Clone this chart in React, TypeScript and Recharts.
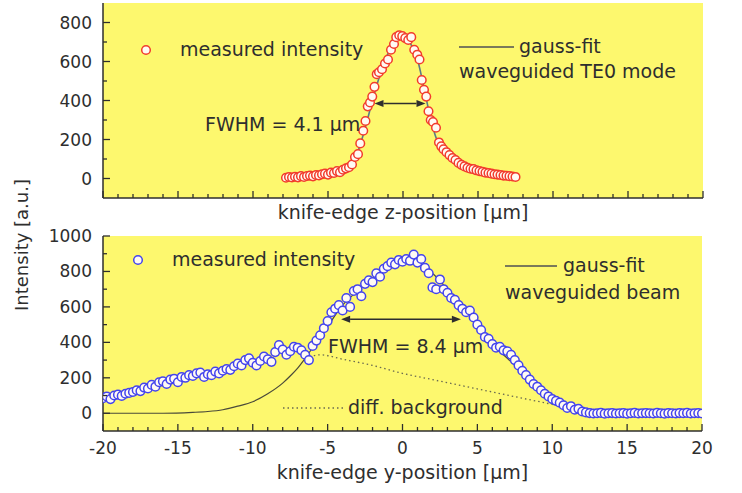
import React from 'react';
import { ComposedChart, Scatter, Line, XAxis, YAxis, CartesianGrid, ReferenceLine } from 'recharts';

const FONT = '"DejaVu Sans", sans-serif';
const INK = '#2e2e2e';
const PANEL = '#fdf86e';

// axis ticks (minor every step, labels only on majors)
const xTicks = [-20, -19, -18, -17, -16, -15, -14, -13, -12, -11, -10, -9, -8, -7, -6, -5, -4, -3, -2, -1, 0, 1, 2, 3, 4, 5, 6, 7, 8, 9, 10, 11, 12, 13, 14, 15, 16, 17, 18, 19, 20];
const topYTicks = [0, 100, 200, 300, 400, 500, 600, 700, 800];
const bottomYTicks = [0, 100, 200, 300, 400, 500, 600, 700, 800, 900, 1000];

// top panel: waveguided TE0 mode, knife-edge z scan
const topMeasured: [number, number][] = [
  [-7.8, 4], [-7.6, 8], [-7.4, 5], [-7.2, 9], [-7.0, 6], [-6.8, 12], [-6.6, 8], [-6.4, 13], [-6.2, 15], [-6.0, 11],
  [-5.8, 18], [-5.6, 16], [-5.4, 22], [-5.2, 25], [-5.0, 20], [-4.8, 30], [-4.6, 28], [-4.4, 38], [-4.2, 32], [-4.0, 45],
  [-3.8, 52], [-3.6, 58], [-3.4, 72], [-3.2, 110], [-3.0, 125], [-2.85, 180], [-2.65, 245], [-2.5, 295], [-2.35, 370], [-2.2, 390],
  [-2.05, 420], [-1.9, 470], [-1.75, 535], [-1.6, 545], [-1.4, 560], [-1.2, 590], [-1.0, 610], [-0.8, 660], [-0.6, 690], [-0.45, 725],
  [-0.25, 735], [-0.05, 730], [0.15, 720], [0.35, 710], [0.55, 725], [0.75, 660], [0.95, 635], [1.1, 610], [1.25, 505], [1.4, 455],
  [1.55, 420], [1.7, 345], [1.85, 300], [2.0, 290], [2.2, 260], [2.4, 185], [2.55, 165], [2.7, 150], [2.9, 135], [3.1, 120],
  [3.3, 105], [3.5, 95], [3.7, 80], [3.9, 70], [4.1, 62], [4.3, 55], [4.5, 50], [4.7, 48], [4.9, 42], [5.1, 38],
  [5.3, 35], [5.5, 30], [5.7, 28], [5.9, 25], [6.1, 22], [6.3, 20], [6.5, 18], [6.7, 15], [6.9, 14], [7.1, 12],
  [7.3, 10], [7.5, 8],
];
const topFit: [number, number][] = [
  [-7.8, 8], [-6, 10], [-5, 14], [-4.5, 20], [-4, 35], [-3.5, 65], [-3, 140], [-2.5, 265], [-2, 410], [-1.5, 540],
  [-1, 640], [-0.5, 710], [-0.1, 733], [0.3, 715], [0.7, 660], [1.0, 600], [1.3, 500], [1.6, 390], [1.9, 290], [2.2, 210],
  [2.6, 150], [3.0, 110], [3.5, 75], [4.0, 50], [4.5, 32], [5.0, 22], [5.6, 15], [6.5, 10], [7.5, 8],
];
const topFwhm: [number, number][] = [[-1.9, 385], [1.5, 385]];

// bottom panel: waveguided beam, knife-edge y scan
const bottomMeasured: [number, number][] = [
  [-20, 85], [-19.75, 95], [-19.5, 80], [-19.25, 100], [-19, 105], [-18.75, 98], [-18.5, 110], [-18.25, 115], [-18, 120], [-17.75, 130],
  [-17.5, 125], [-17.25, 145], [-17, 140], [-16.75, 160], [-16.5, 150], [-16.25, 175], [-16, 180], [-15.75, 165], [-15.5, 190], [-15.25, 195],
  [-15, 175], [-14.75, 205], [-14.5, 200], [-14.25, 215], [-14, 210], [-13.75, 225], [-13.5, 230], [-13.25, 205], [-13, 220], [-12.75, 215],
  [-12.5, 235], [-12.25, 225], [-12, 240], [-11.75, 250], [-11.5, 245], [-11.25, 265], [-11, 280], [-10.75, 270], [-10.5, 300], [-10.25, 310],
  [-10, 285], [-9.75, 270], [-9.5, 295], [-9.25, 320], [-9, 305], [-8.75, 290], [-8.5, 345], [-8.25, 385], [-8, 360], [-7.75, 330],
  [-7.5, 350], [-7.25, 375], [-7, 370], [-6.75, 355], [-6.5, 330], [-6.25, 300], [-6, 380], [-5.75, 410], [-5.5, 440], [-5.25, 480],
  [-5, 520], [-4.75, 570], [-4.5, 590], [-4.25, 610], [-4, 580], [-3.75, 650], [-3.5, 600], [-3.25, 690], [-3, 700], [-2.75, 660],
  [-2.5, 730], [-2.25, 750], [-2, 740], [-1.75, 790], [-1.5, 770], [-1.25, 815], [-1, 830], [-0.75, 850], [-0.5, 840], [-0.25, 865],
  [0, 855], [0.25, 870], [0.5, 860], [0.75, 895], [1, 850], [1.25, 870], [1.5, 820], [1.75, 790], [2, 710], [2.25, 700],
  [2.5, 755], [2.75, 700], [3, 680], [3.25, 650], [3.5, 640], [3.75, 610], [4, 590], [4.25, 570], [4.5, 580], [4.75, 540],
  [5, 500], [5.25, 470], [5.5, 430], [5.75, 420], [6, 390], [6.25, 370], [6.5, 375], [6.75, 355], [7, 350], [7.25, 330],
  [7.5, 300], [7.75, 270], [8, 240], [8.25, 215], [8.5, 190], [8.75, 165], [9, 150], [9.25, 130], [9.5, 110], [9.75, 95],
  [10, 80], [10.25, 70], [10.5, 60], [10.75, 45], [11, 30], [11.25, 40], [11.5, 20], [11.75, 25], [12, 10], [12.25, 5],
  [12.5, 1], [12.75, -1], [13, 0], [13.25, 2], [13.5, -2], [13.75, 0], [14, 1], [14.25, -1], [14.5, 0], [14.75, 1],
  [15, -2], [15.25, 0], [15.5, 2], [15.75, -1], [16, 0], [16.25, 1], [16.5, 0], [16.75, -1], [17, 2], [17.25, 0],
  [17.5, -2], [17.75, 1], [18, 0], [18.25, -1], [18.5, 1], [18.75, 0], [19, 2], [19.25, -1], [19.5, 0], [19.75, 1],
  [20, -1],
];
const bottomFit: [number, number][] = [
  [-20, 0], [-16, 0], [-14, 5], [-13, 10], [-12, 20], [-11, 40], [-10, 65], [-9, 110], [-8, 170], [-7.5, 210],
  [-7, 255], [-6.5, 310], [-6, 370], [-5.5, 430], [-5, 490], [-4, 610], [-3, 690], [-2, 760], [-1, 820], [0, 855],
  [0.5, 860], [1, 850], [2, 790], [3, 700], [4, 600], [5, 490], [6, 390], [7, 310], [8, 230], [9, 150],
  [10, 85], [11, 35], [12, 8], [12.5, 0], [20, 0],
];
const bottomBackground: [number, number][] = [
  [-6.5, 310], [-5.5, 330], [-4, 305], [-2, 270], [0, 225], [2, 190], [4, 155], [6, 120], [8, 85], [10, 50],
  [11.5, 20], [12, 10],
];
const bottomFwhm: [number, number][] = [[-4.1, 530], [3.9, 530]];

const toPts = (arr: [number, number][]) => arr.map(([x, y]) => ({ x, y }));

const XTick = ({ x, y, payload, showLabel }: any) => {
  const v = payload.value;
  const major = v % 5 === 0;
  return (
    <g>
      <line x1={x} x2={x} y1={y} y2={y - (major ? 7 : 4)} stroke={INK} strokeWidth={1.3} />
      {showLabel && major && (
        <text x={x} y={y + 23} textAnchor="middle" fontSize={17} fill={INK} fontFamily={FONT}>{v}</text>
      )}
    </g>
  );
};

const YTick = ({ x, y, payload }: any) => {
  const v = payload.value;
  const major = v % 200 === 0;
  return (
    <g>
      <line x1={x} x2={x + (major ? 7 : 4)} y1={y} y2={y} stroke={INK} strokeWidth={1.3} />
      {major && (
        <text x={x - 11} y={y + 6} textAnchor="end" fontSize={17} fill={INK} fontFamily={FONT}>{v}</text>
      )}
    </g>
  );
};

const Arrow = ({ x1, y1, x2, y2 }: any) => {
  const h = 9;
  const w = 3.5;
  return (
    <g>
      <line x1={x1 + h} y1={y1} x2={x2 - h} y2={y2} stroke={INK} strokeWidth={1.4} />
      <polygon points={`${x1},${y1} ${x1 + h},${y1 - w} ${x1 + h},${y1 + w}`} fill={INK} />
      <polygon points={`${x2},${y2} ${x2 - h},${y2 - w} ${x2 - h},${y2 + w}`} fill={INK} />
    </g>
  );
};

const ring = (stroke: string) => (p: any) => (
  <circle cx={p.cx} cy={p.cy} r={4.3} fill="#fffaf4" stroke={stroke} strokeWidth={1.5} />
);

const axisLabel = (value: string, offset: number) => ({
  value,
  position: 'insideBottom' as const,
  offset,
  fill: INK,
  fontSize: 19,
  fontFamily: FONT,
});

const txt = { fontFamily: FONT, fontSize: 19, fill: INK };

export default function App() {
  return (
    <div style={{ position: 'absolute', left: 0, top: 0, width: 742, height: 493, background: '#fff' }}>
      <div style={{ position: 'absolute', left: 0, top: 0 }}>
        <ComposedChart width={742} height={232} margin={{ top: 3, right: 39, bottom: 0, left: 0 }}>
          <CartesianGrid fill={PANEL} fillOpacity={1} stroke="none" />
          <XAxis dataKey="x" type="number" domain={[-20, 20]} ticks={xTicks} interval={0} allowDataOverflow
            height={34} tickSize={0} tickMargin={0} tickLine={false}
            axisLine={{ stroke: INK, strokeWidth: 1.5 }} tick={<XTick showLabel={false} />}
            label={axisLabel('knife-edge z-position [µm]', 13)} />
          <XAxis xAxisId="top" orientation="top" type="number" domain={[-20, 20]} height={0}
            tick={false} tickLine={false} axisLine={{ stroke: INK, strokeWidth: 1.5 }} />
          <YAxis dataKey="y" type="number" domain={[-100, 900]} ticks={topYTicks} interval={0} allowDataOverflow
            width={103} tickSize={0} tickMargin={0} tickLine={false}
            axisLine={{ stroke: INK, strokeWidth: 1.5 }} tick={<YTick />} />
          <YAxis yAxisId="right" orientation="right" type="number" domain={[-100, 900]} width={0}
            tick={false} tickLine={false} axisLine={{ stroke: INK, strokeWidth: 1.5 }} />
          <Scatter data={toPts(topMeasured)} dataKey="y" shape={ring('#f23c2c')} isAnimationActive={false} />
          <Line data={toPts(topFit)} dataKey="y" type="monotone" stroke="#5a7a88" strokeWidth={1.6}
            dot={false} activeDot={false} isAnimationActive={false} />
          <ReferenceLine segment={toPts(topFwhm)} shape={<Arrow />} />
        </ComposedChart>
      </div>
      <div style={{ position: 'absolute', left: 0, top: 218 }}>
        <ComposedChart width={742} height={275} margin={{ top: 18, right: 40, bottom: 0, left: 0 }}>
          <CartesianGrid fill={PANEL} fillOpacity={1} stroke="none" />
          <XAxis dataKey="x" type="number" domain={[-20, 20]} ticks={xTicks} interval={0} allowDataOverflow
            height={62} tickSize={0} tickMargin={0} tickLine={false}
            axisLine={{ stroke: INK, strokeWidth: 1.5 }} tick={<XTick showLabel />}
            label={axisLabel('knife-edge y-position [µm]', 14)} />
          <XAxis xAxisId="top" orientation="top" type="number" domain={[-20, 20]} height={0}
            tick={false} tickLine={false} axisLine={{ stroke: INK, strokeWidth: 1.5 }} />
          <YAxis dataKey="y" type="number" domain={[-100, 1000]} ticks={bottomYTicks} interval={0} allowDataOverflow
            width={103} tickSize={0} tickMargin={0} tickLine={false}
            axisLine={{ stroke: INK, strokeWidth: 1.5 }} tick={<YTick />} />
          <YAxis yAxisId="right" orientation="right" type="number" domain={[-100, 1000]} width={0}
            tick={false} tickLine={false} axisLine={{ stroke: INK, strokeWidth: 1.5 }} />
          <Line data={toPts(bottomBackground)} dataKey="y" type="monotone" stroke="#6a6a50" strokeWidth={1.3}
            strokeDasharray="1.5 3" dot={false} activeDot={false} isAnimationActive={false} />
          <Scatter data={toPts(bottomMeasured)} dataKey="y" shape={ring('#4444ee')} isAnimationActive={false} />
          <Line data={toPts(bottomFit)} dataKey="y" type="monotone" stroke="#4a4a3a" strokeWidth={1.2}
            dot={false} activeDot={false} isAnimationActive={false} />
          <ReferenceLine segment={toPts(bottomFwhm)} shape={<Arrow />} />
        </ComposedChart>
      </div>
      <svg width={742} height={493} style={{ position: 'absolute', left: 0, top: 0, pointerEvents: 'none' }}>
        <text {...txt} fontSize={18} textAnchor="middle" transform="translate(28,245) rotate(-90)">Intensity [a.u.]</text>

        <circle cx={146} cy={50} r={4.3} fill="#fffaf4" stroke="#f23c2c" strokeWidth={1.5} />
        <text {...txt} x={180} y={56}>measured intensity</text>
        <line x1={459} x2={514} y1={47} y2={47} stroke="#7a7a5a" strokeWidth={2} />
        <text {...txt} x={519} y={53}>gauss-fit</text>
        <text {...txt} x={459} y={78}>waveguided TE0 mode</text>
        <text {...txt} x={205} y={131}>FWHM = 4.1 µm</text>

        <circle cx={138} cy={260} r={4.3} fill="#fffaf4" stroke="#4444ee" strokeWidth={1.5} />
        <text {...txt} x={172} y={266}>measured intensity</text>
        <line x1={505} x2={557} y1={266} y2={266} stroke="#7a7a5a" strokeWidth={2} />
        <text {...txt} x={563} y={272}>gauss-fit</text>
        <text {...txt} x={505} y={299}>waveguided beam</text>
        <text {...txt} x={328} y={353}>FWHM = 8.4 µm</text>
        <line x1={283} x2={343} y1={408} y2={408} stroke="#6a6a50" strokeWidth={1.3} strokeDasharray="1.5 3" />
        <text {...txt} x={348} y={414}>diff. background</text>
      </svg>
    </div>
  );
}
